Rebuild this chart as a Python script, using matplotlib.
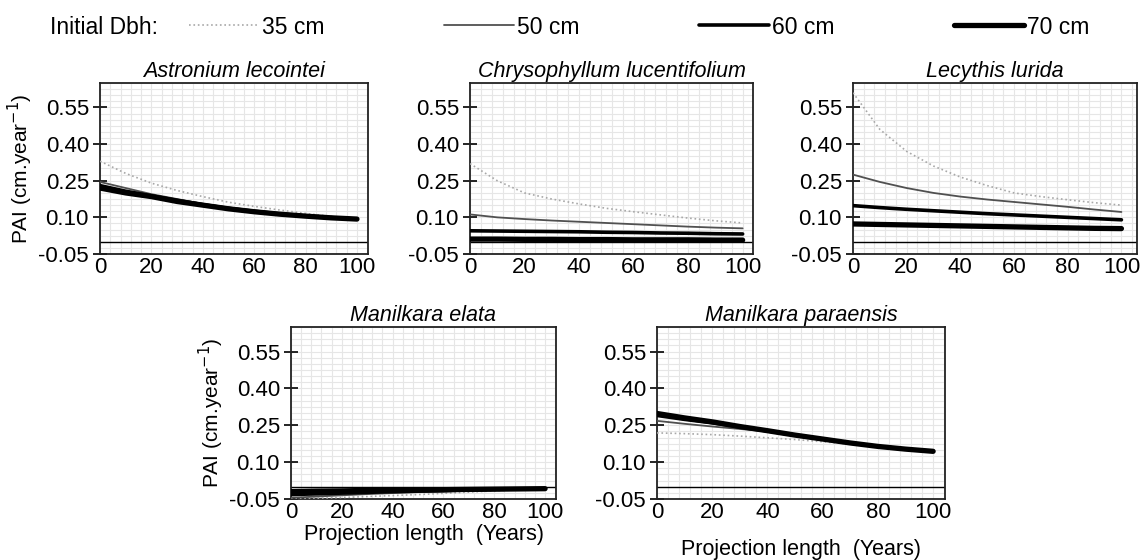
import numpy as np
import matplotlib
matplotlib.use('Agg')
import matplotlib.pyplot as plt
from matplotlib.ticker import MultipleLocator

plt.rcParams['font.family'] = ['Liberation Sans', 'DejaVu Sans']

# -------------------------------------------------------------------------------------
years = [0, 10, 20, 30, 40, 50, 60, 70, 80, 90, 100]
dbh_labels = ['35 cm', '50 cm', '60 cm', '70 cm']
species = ['Astronium lecointei', 'Chrysophyllum lucentifolium', 'Lecythis lurida',
           'Manilkara elata', 'Manilkara paraensis']

astronium_35 = [0.33, 0.28, 0.24, 0.21, 0.185, 0.162, 0.145, 0.13, 0.116, 0.104, 0.093]
astronium_50 = [0.245, 0.22, 0.195, 0.175, 0.155, 0.14, 0.127, 0.116, 0.107, 0.099, 0.093]
astronium_60 = [0.23, 0.207, 0.188, 0.17, 0.152, 0.137, 0.125, 0.114, 0.106, 0.099, 0.093]
astronium_70 = [0.22, 0.20, 0.185, 0.165, 0.15, 0.135, 0.123, 0.113, 0.105, 0.098, 0.093]

chryso_35 = [0.32, 0.25, 0.20, 0.175, 0.155, 0.137, 0.123, 0.11, 0.097, 0.086, 0.077]
chryso_50 = [0.112, 0.10, 0.093, 0.087, 0.082, 0.077, 0.072, 0.067, 0.062, 0.058, 0.055]
chryso_60 = [0.045, 0.044, 0.043, 0.042, 0.041, 0.039, 0.038, 0.036, 0.035, 0.033, 0.032]
chryso_70 = [0.011, 0.011, 0.010, 0.010, 0.009, 0.009, 0.008, 0.008, 0.008, 0.007, 0.007]

lecythis_35 = [0.61, 0.46, 0.37, 0.31, 0.265, 0.23, 0.20, 0.185, 0.172, 0.16, 0.15]
lecythis_50 = [0.275, 0.245, 0.22, 0.20, 0.185, 0.173, 0.163, 0.153, 0.143, 0.132, 0.122]
lecythis_60 = [0.148, 0.14, 0.133, 0.127, 0.121, 0.115, 0.11, 0.105, 0.10, 0.095, 0.09]
lecythis_70 = [0.073, 0.071, 0.069, 0.067, 0.065, 0.063, 0.061, 0.059, 0.057, 0.055, 0.054]

elata_35 = [-0.05, -0.047, -0.044, -0.04, -0.036, -0.032, -0.027, -0.022, -0.017, -0.012, -0.008]
elata_50 = [-0.045, -0.04, -0.035, -0.03, -0.026, -0.022, -0.019, -0.016, -0.013, -0.01, -0.008]
elata_60 = [-0.032, -0.029, -0.026, -0.023, -0.02, -0.018, -0.016, -0.013, -0.011, -0.009, -0.008]
elata_70 = [-0.02, -0.018, -0.017, -0.015, -0.014, -0.013, -0.012, -0.011, -0.01, -0.009, -0.008]

paraensis_35 = [0.219, 0.216, 0.212, 0.206, 0.199, 0.192, 0.183, 0.173, 0.163, 0.153, 0.144]
paraensis_50 = [0.268, 0.256, 0.245, 0.235, 0.225, 0.21, 0.194, 0.178, 0.164, 0.153, 0.144]
paraensis_60 = [0.29, 0.274, 0.26, 0.243, 0.227, 0.21, 0.194, 0.178, 0.164, 0.153, 0.144]
paraensis_70 = [0.298, 0.28, 0.264, 0.245, 0.228, 0.21, 0.194, 0.178, 0.164, 0.153, 0.144]

panel_data = [
    [astronium_35, astronium_50, astronium_60, astronium_70],
    [chryso_35, chryso_50, chryso_60, chryso_70],
    [lecythis_35, lecythis_50, lecythis_60, lecythis_70],
    [elata_35, elata_50, elata_60, elata_70],
    [paraensis_35, paraensis_50, paraensis_60, paraensis_70],
]

# -------------------------------------------------------------------------------------
line_styles = [
    dict(color='#a8a8a8', lw=1.2, ls=':'),
    dict(color='#505050', lw=1.3, ls='-'),
    dict(color='black', lw=2.6, ls='-'),
    dict(color='black', lw=3.8, ls='-'),
]

W, H = 1141, 560
# axes boxes in pixels: left, right, top, bottom, x max
boxes = [
    (100, 368, 83, 254, 104.3),
    (470, 753, 83, 254, 103.8),
    (853, 1137, 83, 254, 105.8),
    (291, 556, 327, 499, 104.3),
    (657, 945, 327, 499, 104.3),
]

fig = plt.figure(figsize=(W / 100, H / 100), dpi=100)

axes = []
for i, (l, r, t, b, xmax) in enumerate(boxes):
    ax = fig.add_axes([l / W, 1 - b / H, (r - l) / W, (b - t) / H])
    axes.append(ax)
    for j, series in enumerate(panel_data[i]):
        ax.plot(years, series, label=dbh_labels[j], zorder=3 + j,
                solid_capstyle='round', **line_styles[j])
    ax.axhline(0, color='black', lw=1.0, zorder=2)

    ax.set_xlim(0, xmax)
    ax.set_ylim(-0.05, 0.65)
    ax.set_xticks([0, 20, 40, 60, 80, 100])
    ax.set_yticks([-0.05, 0.10, 0.25, 0.40, 0.55])
    ax.set_yticklabels(['-0.05', '0.10', '0.25', '0.40', '0.55'])
    ax.xaxis.set_minor_locator(MultipleLocator(4))
    ax.yaxis.set_minor_locator(MultipleLocator(0.025))
    ax.grid(which='both', color='#e6e6e6', lw=0.8, zorder=0)
    ax.set_axisbelow(True)
    ax.tick_params(axis='y', which='major', direction='inout', length=10,
                   width=1.2, labelsize=16, pad=3)
    ax.tick_params(axis='x', which='major', length=0, labelsize=16, pad=2)
    ax.tick_params(which='minor', length=0)
    for s in ax.spines.values():
        s.set_linewidth(1.3)
        s.set_color('#222222')
    ax.set_title(species[i], fontstyle='italic', fontsize=15.5, pad=4)

axes[0].set_ylabel('PAI (cm.year$^{-1}$)', fontsize=15, labelpad=2)
axes[3].set_ylabel('PAI (cm.year$^{-1}$)', fontsize=15, labelpad=2)
axes[3].set_xlabel('Projection length  (Years)', fontsize=15.5, labelpad=1)
axes[4].set_xlabel('Projection length  (Years)', fontsize=15.5, labelpad=12)

# legend across the top
fig.text(50 / W, 1 - 27 / H, 'Initial Dbh:', fontsize=16.5, va='center', ha='left')
handles, labels = axes[0].get_legend_handles_labels()
fig.legend(handles, labels, loc='center left', bbox_to_anchor=(189 / W, 1 - 27 / H),
           ncol=4, frameon=False, fontsize=16.5, handlelength=3.05, handletextpad=0.15,
           columnspacing=5.2, borderpad=0, borderaxespad=0)

fig.savefig('out.png', dpi=100)
